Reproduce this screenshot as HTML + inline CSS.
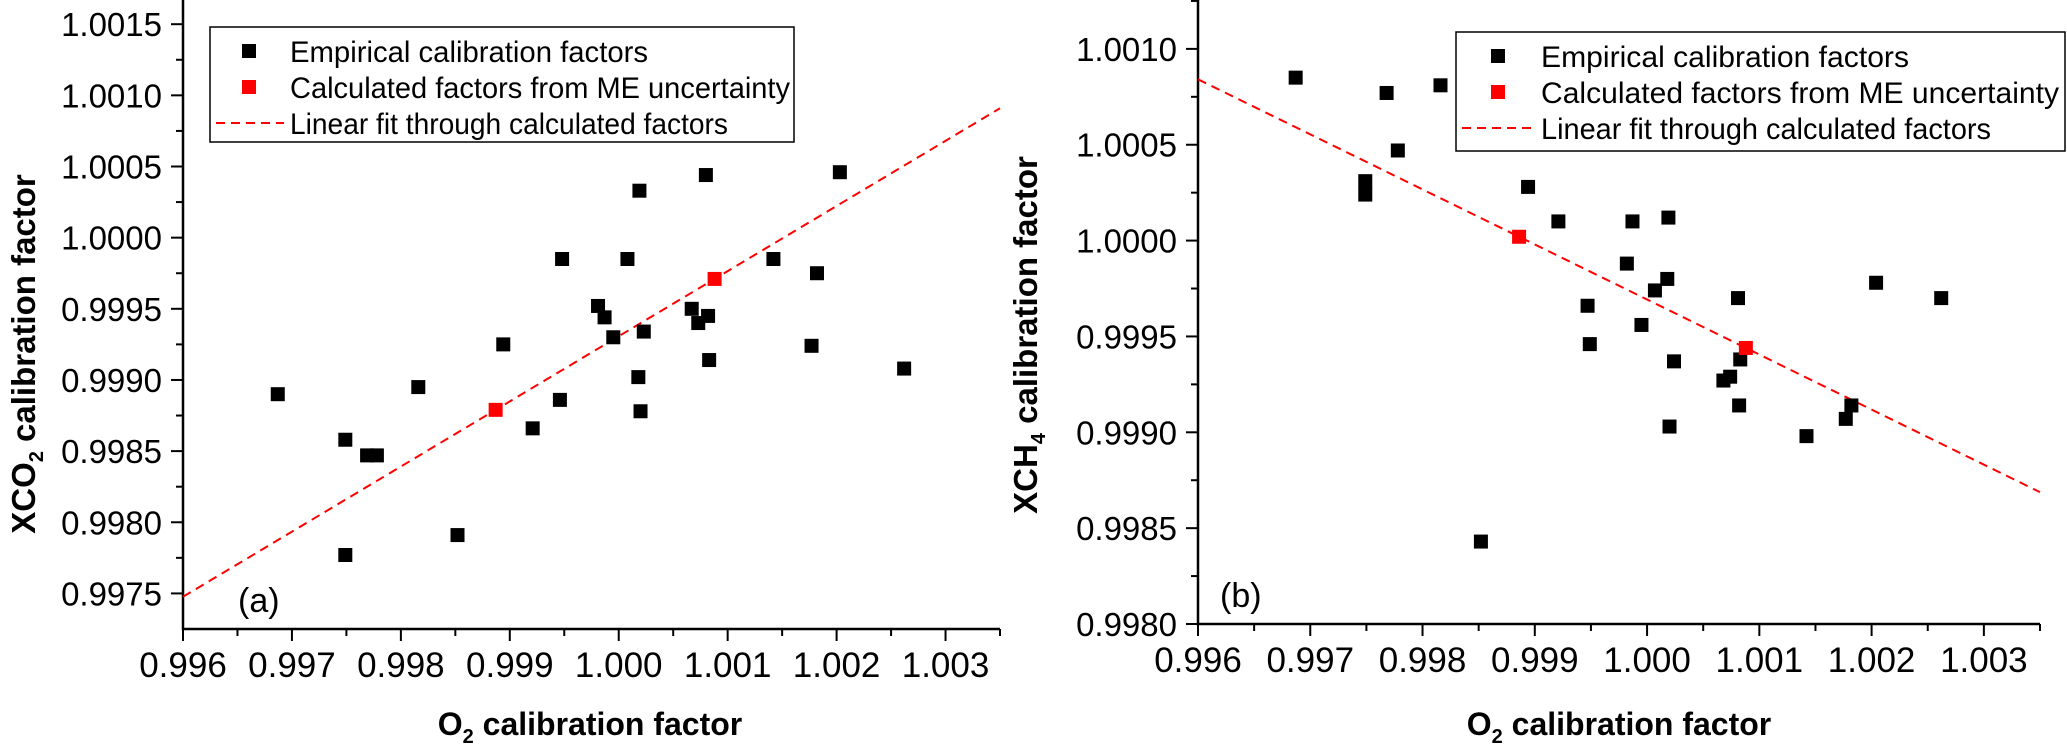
<!DOCTYPE html>
<html><head><meta charset="utf-8">
<style>
html,body{margin:0;padding:0;background:#fff;}
svg{display:block;font-family:"Liberation Sans",Arial,sans-serif;}
</style></head>
<body>
<svg id="fig" width="2067" height="750" viewBox="0 0 2067 750" xmlns="http://www.w3.org/2000/svg"></svg>
<script>
// ---- Data: panel (a) XCO2 ----
const aEmpX = [0.99687,0.99749,0.99769,0.99778,0.99749,0.99816,0.99852,0.99894,0.99921,0.99946,0.99948,0.99981,0.99987,0.99995,1.00008,1.00019,1.00018,1.00020,1.00023,1.00067,1.00073,1.00080,1.00082,1.00083,1.00142,1.00182,1.00177,1.00203,1.00262];
const aEmpY = [0.99890,0.99858,0.99847,0.99847,0.99777,0.99895,0.99791,0.99925,0.99866,0.99886,0.99985,0.99952,0.99944,0.99930,0.99985,1.00033,0.99902,0.99878,0.99934,0.99950,0.99940,1.00044,0.99945,0.99914,0.99985,0.99975,0.99924,1.00046,0.99908];
const aCalcX = [0.99887,1.00088];
const aCalcY = [0.99879,0.99971];
const aYTicks = [0.9975,0.9980,0.9985,0.9990,0.9995,1.0000,1.0005,1.0010,1.0015];
// ---- Data: panel (b) XCH4 ----
const bEmpX = [0.99687,0.99768,0.99816,0.99778,0.99749,0.99749,0.99894,0.99921,0.99987,1.00019,0.99982,1.00018,1.00007,0.99947,0.99949,0.99995,1.00024,1.00081,1.00083,1.00068,1.00074,1.00082,1.00020,1.00142,1.00177,1.00182,1.00204,1.00262,0.99852];
const bEmpY = [1.00085,1.00077,1.00081,1.00047,1.00031,1.00024,1.00028,1.00010,1.00010,1.00012,0.99988,0.99980,0.99974,0.99966,0.99946,0.99956,0.99937,0.99970,0.99938,0.99927,0.99929,0.99914,0.99903,0.99898,0.99907,0.99914,0.99978,0.99970,0.99843];
const bCalcX = [0.99886,1.00088];
const bCalcY = [1.00002,0.99944];
const bYTicks = [0.9980,0.9985,0.9990,0.9995,1.0000,1.0005,1.0010];
const xTicks = [0.996,0.997,0.998,0.999,1.000,1.001,1.002,1.003];
const legendLabels = ["Empirical calibration factors","Calculated factors from ME uncertainty","Linear fit through calculated factors"];

const NS="http://www.w3.org/2000/svg";
const svg=document.getElementById('fig');
function mk(tag,attrs,parent){const e=document.createElementNS(NS,tag);for(const k in attrs)e.setAttribute(k,attrs[k]);(parent||svg).appendChild(e);return e;}

function panel(p){
  const g=mk('g',{});
  
  
  const sx=v=>p.x0+(v-p.xmin)/(p.xmax-p.xmin)*(p.x1-p.x0);
  const sy=v=>p.y0-(v-p.ymin)/(p.ymax-p.ymin)*(p.y0-p.y1);
  const ax=mk('path',{d:`M${p.x0},${p.y1} L${p.x0},${p.y0} L${p.x1},${p.y0}`,stroke:'#000','stroke-width':2.5,fill:'none'},g);
  
  
  xTicks.forEach((t,i)=>{
    const x=sx(t);
    mk('line',{x1:x,y1:p.y0,x2:x,y2:p.y0+12,stroke:'#000','stroke-width':2},g);
    const xm=sx(t+0.0005);
    if(xm<=p.x1+1) mk('line',{x1:xm,y1:p.y0,x2:xm,y2:p.y0+7,stroke:'#000','stroke-width':2},g);
    const tx=mk('text',{x:x,y:p.y0+48,'font-size':35,'text-anchor':'middle',fill:'#000'},g);
    tx.textContent=t.toFixed(3);
    
    
  });
  p.yTicks.forEach(t=>{
    const y=sy(t);
    mk('line',{x1:p.x0-12,y1:y,x2:p.x0,y2:y,stroke:'#000','stroke-width':2},g);
    const ym=sy(t+0.00025);
    if(ym>=p.y1) mk('line',{x1:p.x0-7,y1:ym,x2:p.x0,y2:ym,stroke:'#000','stroke-width':2},g);
    const ty=mk('text',{x:p.x0-21,y:y+12,'font-size':33,'text-anchor':'end',fill:'#000'},g);
    ty.textContent=t.toFixed(4);
    
    
  });
  const sl=(p.cy[1]-p.cy[0])/(p.cx[1]-p.cx[0]);
  const fy=x=>p.cy[0]+sl*(x-p.cx[0]);
  const fl=mk('line',{x1:sx(p.xmin),y1:sy(fy(p.xmin)),x2:sx(p.xmax),y2:sy(fy(p.xmax)),stroke:'#f00','stroke-width':2,'stroke-dasharray':'9,6'},g);
  
  
  p.ex.forEach((v,i)=>{
    const r=mk('rect',{x:sx(v)-7,y:sy(p.ey[i])-7,width:14,height:14,fill:'#000'},g);
    
    
  });
  p.cx.forEach((v,i)=>{
    const r=mk('rect',{x:sx(v)-7,y:sy(p.cy[i])-7,width:14,height:14,fill:'#f00'},g);
    
    
  });
  const pl=mk('text',{x:p.lblX,y:p.lblY,'font-size':34,fill:'#000'},g);
  pl.textContent=p.lbl;
  
  
  const lg=mk('g',{},g);
  
  
  const L=p.leg;
  mk('rect',{x:L.x,y:L.y,width:L.w,height:L.h,fill:'#fff',stroke:'#000','stroke-width':1.5},lg);
  const rows=[L.y+24,L.y+60,L.y+96];
  const m1=mk('rect',{x:L.mx-7,y:rows[0]-7,width:14,height:14,fill:'#000'},lg);
  
  
  const m2=mk('rect',{x:L.mx-7,y:rows[1]-7,width:14,height:14,fill:'#f00'},lg);
  
  
  const m3=mk('line',{x1:L.x+6,y1:rows[2],x2:L.tx-6,y2:rows[2],stroke:'#f00','stroke-width':2,'stroke-dasharray':'9,6'},lg);
  
  
  legendLabels.forEach((s,i)=>{
    const t=mk('text',{x:L.tx,y:rows[i]+11,'font-size':30,fill:'#000',textLength:L.tl[i],lengthAdjust:'spacingAndGlyphs'},lg);
    t.textContent=s;
    
    
  });
  const xt=mk('text',{x:p.xtX,y:735,'font-size':32,'font-weight':'bold','text-anchor':'middle',fill:'#000'},g);
  xt.innerHTML='O<tspan font-size="20" dy="8">2</tspan><tspan dy="-8"> calibration factor</tspan>';
  
  
  const yt=mk('text',{x:0,y:0,'font-size':33,'font-weight':'bold','text-anchor':'middle',fill:'#000',transform:`translate(${p.ytX},${p.ytY}) rotate(-90)`},g);
  yt.innerHTML=p.ytHTML;
  
  
}

panel({name:'panel-a-xco2',x0:183,x1:1000,y0:629,y1:0,xmin:0.996,xmax:1.0035,ymin:0.99725,ymax:1.00167,
  yTicks:aYTicks,ex:aEmpX,ey:aEmpY,cx:aCalcX,cy:aCalcY,lbl:'(a)',lblX:238,lblY:612,
  leg:{x:210,y:27,w:584,h:115,mx:249,tx:290,tl:[358,500,438]},
  xtX:590,ytX:35,ytY:354,ytHTML:'XCO<tspan font-size="20" dy="8">2</tspan><tspan dy="-8"> calibration factor</tspan>'});
panel({name:'panel-b-xch4',x0:1198,x1:2040,y0:624,y1:0,xmin:0.996,xmax:1.0035,ymin:0.9980,ymax:1.001255,
  yTicks:bYTicks,ex:bEmpX,ey:bEmpY,cx:bCalcX,cy:bCalcY,lbl:'(b)',lblX:1220,lblY:607,
  leg:{x:1456,y:32,w:609,h:119,mx:1498,tx:1541,tl:[368,518,450]},
  xtX:1619,ytX:1037,ytY:335,ytHTML:'XCH<tspan font-size="20" dy="8">4</tspan><tspan dy="-8"> calibration factor</tspan>'});
</script>
</body></html>
